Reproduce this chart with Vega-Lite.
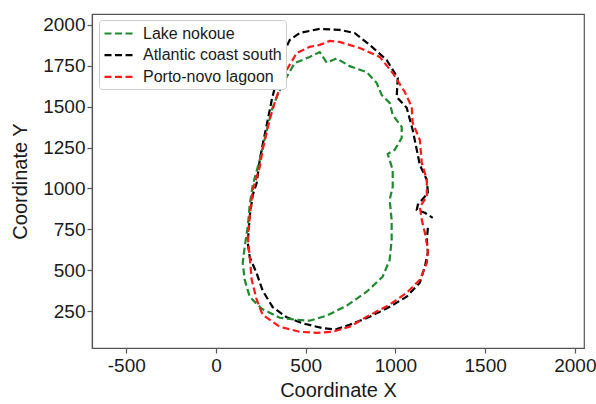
{
  "$schema": "https://vega.github.io/schema/vega-lite/v6.json",
  "width": 492,
  "height": 334,
  "autosize": "none",
  "padding": {"left": 92, "top": 14, "right": 12, "bottom": 56},
  "background": "white",
  "config": {
    "font": "Liberation Sans",
    "view": {"stroke": "#555555", "strokeWidth": 1.2},
    "axis": {
      "grid": false,
      "domainColor": "#555555",
      "domainWidth": 1.2,
      "tickColor": "#555555",
      "tickSize": 5,
      "tickWidth": 1.2,
      "labelFont": "Liberation Sans",
      "labelFontSize": 19,
      "labelColor": "#1a1a1a",
      "titleFont": "Liberation Sans",
      "titleFontSize": 20,
      "titleFontWeight": "normal",
      "titleColor": "#1a1a1a"
    }
  },
  "data": {
    "values": [
      {"s": "Atlantic coast south", "i": 0, "x": 1181, "y": 759},
      {"s": "Atlantic coast south", "i": 1, "x": 1175, "y": 686},
      {"s": "Atlantic coast south", "i": 2, "x": 1181, "y": 607},
      {"s": "Atlantic coast south", "i": 3, "x": 1164, "y": 521},
      {"s": "Atlantic coast south", "i": 4, "x": 1136, "y": 423},
      {"s": "Atlantic coast south", "i": 5, "x": 1063, "y": 338},
      {"s": "Atlantic coast south", "i": 6, "x": 968, "y": 276},
      {"s": "Atlantic coast south", "i": 7, "x": 857, "y": 215},
      {"s": "Atlantic coast south", "i": 8, "x": 745, "y": 166},
      {"s": "Atlantic coast south", "i": 9, "x": 665, "y": 137},
      {"s": "Atlantic coast south", "i": 10, "x": 595, "y": 145},
      {"s": "Atlantic coast south", "i": 11, "x": 483, "y": 175},
      {"s": "Atlantic coast south", "i": 12, "x": 394, "y": 212},
      {"s": "Atlantic coast south", "i": 13, "x": 316, "y": 274},
      {"s": "Atlantic coast south", "i": 14, "x": 260, "y": 375},
      {"s": "Atlantic coast south", "i": 15, "x": 227, "y": 480},
      {"s": "Atlantic coast south", "i": 16, "x": 188, "y": 580},
      {"s": "Atlantic coast south", "i": 17, "x": 177, "y": 668},
      {"s": "Atlantic coast south", "i": 18, "x": 188, "y": 827},
      {"s": "Atlantic coast south", "i": 19, "x": 205, "y": 961},
      {"s": "Atlantic coast south", "i": 20, "x": 227, "y": 1034},
      {"s": "Atlantic coast south", "i": 21, "x": 244, "y": 1175},
      {"s": "Atlantic coast south", "i": 22, "x": 260, "y": 1267},
      {"s": "Atlantic coast south", "i": 23, "x": 283, "y": 1389},
      {"s": "Atlantic coast south", "i": 24, "x": 311, "y": 1542},
      {"s": "Atlantic coast south", "i": 25, "x": 338, "y": 1664},
      {"s": "Atlantic coast south", "i": 26, "x": 372, "y": 1817},
      {"s": "Atlantic coast south", "i": 27, "x": 411, "y": 1908},
      {"s": "Atlantic coast south", "i": 28, "x": 467, "y": 1951},
      {"s": "Atlantic coast south", "i": 29, "x": 578, "y": 1976},
      {"s": "Atlantic coast south", "i": 30, "x": 689, "y": 1970},
      {"s": "Atlantic coast south", "i": 31, "x": 772, "y": 1951},
      {"s": "Atlantic coast south", "i": 32, "x": 857, "y": 1878},
      {"s": "Atlantic coast south", "i": 33, "x": 951, "y": 1786},
      {"s": "Atlantic coast south", "i": 34, "x": 1013, "y": 1676},
      {"s": "Atlantic coast south", "i": 35, "x": 1007, "y": 1560},
      {"s": "Atlantic coast south", "i": 36, "x": 1063, "y": 1493},
      {"s": "Atlantic coast south", "i": 37, "x": 1096, "y": 1359},
      {"s": "Atlantic coast south", "i": 38, "x": 1119, "y": 1236},
      {"s": "Atlantic coast south", "i": 39, "x": 1136, "y": 1144},
      {"s": "Atlantic coast south", "i": 40, "x": 1175, "y": 1053},
      {"s": "Atlantic coast south", "i": 41, "x": 1181, "y": 973},
      {"s": "Atlantic coast south", "i": 42, "x": 1125, "y": 900},
      {"s": "Atlantic coast south", "i": 43, "x": 1119, "y": 869},
      {"s": "Atlantic coast south", "i": 44, "x": 1164, "y": 851},
      {"s": "Atlantic coast south", "i": 45, "x": 1208, "y": 820},

      {"s": "Lake nokoue", "i": 0, "x": 384, "y": 1663},
      {"s": "Lake nokoue", "i": 1, "x": 439, "y": 1767},
      {"s": "Lake nokoue", "i": 2, "x": 522, "y": 1804},
      {"s": "Lake nokoue", "i": 3, "x": 578, "y": 1834},
      {"s": "Lake nokoue", "i": 4, "x": 617, "y": 1770},
      {"s": "Lake nokoue", "i": 5, "x": 673, "y": 1795},
      {"s": "Lake nokoue", "i": 6, "x": 745, "y": 1748},
      {"s": "Lake nokoue", "i": 7, "x": 840, "y": 1711},
      {"s": "Lake nokoue", "i": 8, "x": 896, "y": 1645},
      {"s": "Lake nokoue", "i": 9, "x": 923, "y": 1572},
      {"s": "Lake nokoue", "i": 10, "x": 968, "y": 1523},
      {"s": "Lake nokoue", "i": 11, "x": 985, "y": 1450},
      {"s": "Lake nokoue", "i": 12, "x": 1035, "y": 1376},
      {"s": "Lake nokoue", "i": 13, "x": 1035, "y": 1309},
      {"s": "Lake nokoue", "i": 14, "x": 996, "y": 1236},
      {"s": "Lake nokoue", "i": 15, "x": 957, "y": 1211},
      {"s": "Lake nokoue", "i": 16, "x": 985, "y": 1113},
      {"s": "Lake nokoue", "i": 17, "x": 985, "y": 1010},
      {"s": "Lake nokoue", "i": 18, "x": 968, "y": 930},
      {"s": "Lake nokoue", "i": 19, "x": 979, "y": 808},
      {"s": "Lake nokoue", "i": 20, "x": 979, "y": 686},
      {"s": "Lake nokoue", "i": 21, "x": 968, "y": 564},
      {"s": "Lake nokoue", "i": 22, "x": 929, "y": 460},
      {"s": "Lake nokoue", "i": 23, "x": 840, "y": 368},
      {"s": "Lake nokoue", "i": 24, "x": 729, "y": 283},
      {"s": "Lake nokoue", "i": 25, "x": 617, "y": 222},
      {"s": "Lake nokoue", "i": 26, "x": 522, "y": 191},
      {"s": "Lake nokoue", "i": 27, "x": 450, "y": 197},
      {"s": "Lake nokoue", "i": 28, "x": 355, "y": 209},
      {"s": "Lake nokoue", "i": 29, "x": 255, "y": 264},
      {"s": "Lake nokoue", "i": 30, "x": 188, "y": 337},
      {"s": "Lake nokoue", "i": 31, "x": 160, "y": 441},
      {"s": "Lake nokoue", "i": 32, "x": 149, "y": 545},
      {"s": "Lake nokoue", "i": 33, "x": 160, "y": 643},
      {"s": "Lake nokoue", "i": 34, "x": 177, "y": 765},
      {"s": "Lake nokoue", "i": 35, "x": 188, "y": 900},
      {"s": "Lake nokoue", "i": 36, "x": 205, "y": 1022},
      {"s": "Lake nokoue", "i": 37, "x": 244, "y": 1175},
      {"s": "Lake nokoue", "i": 38, "x": 277, "y": 1328},
      {"s": "Lake nokoue", "i": 39, "x": 311, "y": 1481},
      {"s": "Lake nokoue", "i": 40, "x": 344, "y": 1572},
      {"s": "Lake nokoue", "i": 41, "x": 384, "y": 1663},

      {"s": "Porto-novo lagoon", "i": 0, "x": 394, "y": 1725},
      {"s": "Porto-novo lagoon", "i": 1, "x": 450, "y": 1829},
      {"s": "Porto-novo lagoon", "i": 2, "x": 522, "y": 1866},
      {"s": "Porto-novo lagoon", "i": 3, "x": 578, "y": 1878},
      {"s": "Porto-novo lagoon", "i": 4, "x": 634, "y": 1902},
      {"s": "Porto-novo lagoon", "i": 5, "x": 689, "y": 1896},
      {"s": "Porto-novo lagoon", "i": 6, "x": 801, "y": 1859},
      {"s": "Porto-novo lagoon", "i": 7, "x": 913, "y": 1804},
      {"s": "Porto-novo lagoon", "i": 8, "x": 985, "y": 1706},
      {"s": "Porto-novo lagoon", "i": 9, "x": 1052, "y": 1590},
      {"s": "Porto-novo lagoon", "i": 10, "x": 1091, "y": 1499},
      {"s": "Porto-novo lagoon", "i": 11, "x": 1096, "y": 1401},
      {"s": "Porto-novo lagoon", "i": 12, "x": 1136, "y": 1297},
      {"s": "Porto-novo lagoon", "i": 13, "x": 1147, "y": 1156},
      {"s": "Porto-novo lagoon", "i": 14, "x": 1175, "y": 1053},
      {"s": "Porto-novo lagoon", "i": 15, "x": 1175, "y": 949},
      {"s": "Porto-novo lagoon", "i": 16, "x": 1136, "y": 888},
      {"s": "Porto-novo lagoon", "i": 17, "x": 1147, "y": 808},
      {"s": "Porto-novo lagoon", "i": 18, "x": 1164, "y": 729},
      {"s": "Porto-novo lagoon", "i": 19, "x": 1181, "y": 625},
      {"s": "Porto-novo lagoon", "i": 20, "x": 1175, "y": 545},
      {"s": "Porto-novo lagoon", "i": 21, "x": 1136, "y": 441},
      {"s": "Porto-novo lagoon", "i": 22, "x": 1063, "y": 362},
      {"s": "Porto-novo lagoon", "i": 23, "x": 968, "y": 289},
      {"s": "Porto-novo lagoon", "i": 24, "x": 840, "y": 215},
      {"s": "Porto-novo lagoon", "i": 25, "x": 745, "y": 154},
      {"s": "Porto-novo lagoon", "i": 26, "x": 650, "y": 123},
      {"s": "Porto-novo lagoon", "i": 27, "x": 561, "y": 117},
      {"s": "Porto-novo lagoon", "i": 28, "x": 467, "y": 123},
      {"s": "Porto-novo lagoon", "i": 29, "x": 355, "y": 154},
      {"s": "Porto-novo lagoon", "i": 30, "x": 260, "y": 227},
      {"s": "Porto-novo lagoon", "i": 31, "x": 227, "y": 319},
      {"s": "Porto-novo lagoon", "i": 32, "x": 199, "y": 441},
      {"s": "Porto-novo lagoon", "i": 33, "x": 188, "y": 582},
      {"s": "Porto-novo lagoon", "i": 34, "x": 177, "y": 704},
      {"s": "Porto-novo lagoon", "i": 35, "x": 188, "y": 827},
      {"s": "Porto-novo lagoon", "i": 36, "x": 205, "y": 992},
      {"s": "Porto-novo lagoon", "i": 37, "x": 244, "y": 1132},
      {"s": "Porto-novo lagoon", "i": 38, "x": 260, "y": 1236},
      {"s": "Porto-novo lagoon", "i": 39, "x": 299, "y": 1420},
      {"s": "Porto-novo lagoon", "i": 40, "x": 327, "y": 1524},
      {"s": "Porto-novo lagoon", "i": 41, "x": 355, "y": 1615},
      {"s": "Porto-novo lagoon", "i": 42, "x": 394, "y": 1725}
    ]
  },
  "mark": {"type": "line", "strokeWidth": 2.2, "strokeDash": [7, 3.5], "clip": true},
  "encoding": {
    "x": {
      "field": "x", "type": "quantitative",
      "scale": {"domain": [-691, 2051], "nice": false, "zero": false},
      "axis": {"values": [-500, 0, 500, 1000, 1500, 2000], "title": "Coordinate X", "labelPadding": 3, "titlePadding": 5, "labelFlush": false,
        "labelExpr": "datum.value < 0 ? '-' + format(-datum.value, 'd') : format(datum.value, 'd')"}
    },
    "y": {
      "field": "y", "type": "quantitative",
      "scale": {"domain": [24, 2067], "nice": false, "zero": false},
      "axis": {"values": [250, 500, 750, 1000, 1250, 1500, 1750, 2000], "title": "Coordinate Y", "labelPadding": 2, "titlePadding": 12, "labelFlush": false,
        "labelExpr": "format(datum.value, 'd')"}
    },
    "color": {
      "field": "s", "type": "nominal",
      "scale": {"domain": ["Lake nokoue", "Atlantic coast south", "Porto-novo lagoon"], "range": ["#1f8a2e", "#000000", "#ff1a1a"]},
      "legend": {
        "title": null,
        "orient": "none",
        "legendX": 7,
        "legendY": 6,
        "symbolType": "M-1,0H2.5",
        "symbolSize": 256,
        "symbolStrokeWidth": 2.2,
        "symbolDash": [7, 3.5],
        "labelFontSize": 16,
        "labelFont": "Liberation Sans",
        "labelColor": "#1a1a1a",
        "labelOffset": 21,
        "rowPadding": 3.7,
        "padding": 4,
        "fillColor": "white",
        "strokeColor": "#cccccc",
        "cornerRadius": 3
      }
    },
    "order": {"field": "i", "type": "quantitative"}
  }
}
